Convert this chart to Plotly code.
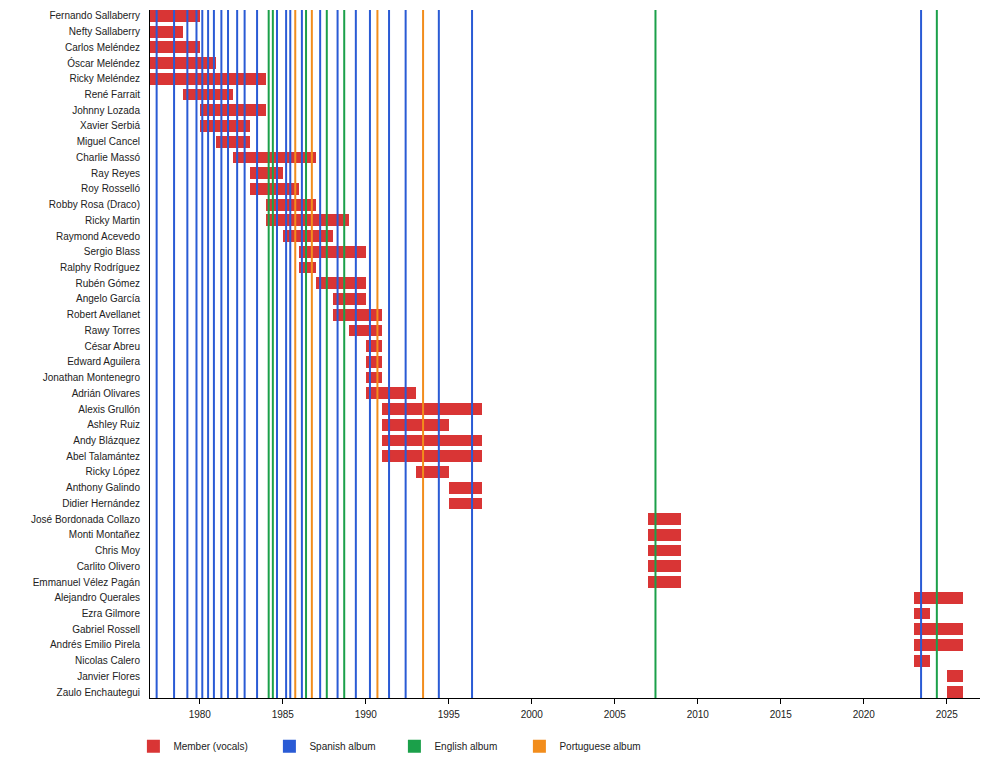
import plotly.graph_objects as go

# ---- data ----
members = [
    "Fernando Sallaberry", "Nefty Sallaberry", "Carlos Meléndez", "Óscar Meléndez",
    "Ricky Meléndez", "René Farrait", "Johnny Lozada", "Xavier Serbiá", "Miguel Cancel",
    "Charlie Massó", "Ray Reyes", "Roy Rosselló", "Robby Rosa (Draco)", "Ricky Martin",
    "Raymond Acevedo", "Sergio Blass", "Ralphy Rodríguez", "Rubén Gómez", "Angelo García",
    "Robert Avellanet", "Rawy Torres", "César Abreu", "Edward Aguilera",
    "Jonathan Montenegro", "Adrián Olivares", "Alexis Grullón", "Ashley Ruiz",
    "Andy Blázquez", "Abel Talamántez", "Ricky López", "Anthony Galindo",
    "Didier Hernández", "José Bordonada Collazo", "Monti Montañez", "Chris Moy",
    "Carlito Olivero", "Emmanuel Vélez Pagán", "Alejandro Querales", "Ezra Gilmore",
    "Gabriel Rossell", "Andrés Emilio Pirela", "Nicolas Calero", "Janvier Flores",
    "Zaulo Enchautegui",
]
start_year = [
    1977, 1977, 1977, 1977, 1977, 1979, 1980, 1980, 1981, 1982, 1983, 1983, 1984, 1984,
    1985, 1986, 1986, 1987, 1988, 1988, 1989, 1990, 1990, 1990, 1990, 1991, 1991, 1991,
    1991, 1993, 1995, 1995, 2007, 2007, 2007, 2007, 2007, 2023, 2023, 2023, 2023, 2023,
    2025, 2025,
]
end_year = [
    1980, 1979, 1980, 1981, 1984, 1982, 1984, 1983, 1983, 1987, 1985, 1986, 1987, 1989,
    1988, 1990, 1987, 1990, 1990, 1991, 1991, 1991, 1991, 1991, 1993, 1997, 1995, 1997,
    1997, 1995, 1997, 1997, 2009, 2009, 2009, 2009, 2009, 2026, 2024, 2026, 2026, 2024,
    2026, 2026,
]
spanish_albums = [
    1977.4, 1978.45, 1979.25, 1979.8, 1980.15, 1980.5, 1980.85, 1981.3, 1981.7, 1982.25,
    1982.7, 1983.45, 1984.65, 1985.2, 1985.45, 1986.15, 1987.25, 1988.3, 1989.4, 1990.25,
    1991.4, 1992.4, 1994.4, 1996.4, 2023.45,
]
english_albums = [1984.15, 1984.4, 1986.4, 1987.65, 1988.7, 2007.45, 2024.4]
portuguese_albums = [1985.75, 1986.75, 1990.7, 1993.45]
x_ticks = [1980, 1985, 1990, 1995, 2000, 2005, 2010, 2015, 2020, 2025]

# ---- styles ----
RED = "#d93535"
BLUE = "#2a5bd5"
GREEN = "#1ba04a"
ORANGE = "#f28d1c"
FONT = "Liberation Sans, Arial, sans-serif"
TXT = "#222222"

fig = go.Figure()

fig.add_trace(go.Bar(
    y=members,
    x=[e - s for s, e in zip(start_year, end_year)],
    base=start_year,
    orientation="h",
    width=0.75,
    marker=dict(color=RED, line=dict(width=0)),
    showlegend=False,
    hoverinfo="skip",
))


def album_trace(years, color):
    xs, ys = [], []
    for yr in years:
        xs += [yr, yr, None]
        ys += [0, 1, None]
    return go.Scatter(x=xs, y=ys, yaxis="y2", mode="lines",
                      line=dict(color=color, width=2), showlegend=False,
                      hoverinfo="skip")


fig.add_trace(album_trace(spanish_albums, BLUE))
fig.add_trace(album_trace(english_albums, GREEN))
fig.add_trace(album_trace(portuguese_albums, ORANGE))

legend_items = [("Member (vocals)", RED, 91), ("Spanish album", BLUE, 80),
                ("English album", GREEN, 80), ("Portuguese album", ORANGE, 90)]
for name, color, lw in legend_items:
    fig.add_trace(go.Scatter(
        x=[None], y=[None], mode="markers", name=name,
        marker=dict(symbol="square", size=13, color=color, line=dict(width=0)),
        legendwidth=lw, showlegend=True,
    ))

n = len(members)
fig.update_layout(
    width=1000, height=768,
    margin=dict(l=142, r=28, t=2, b=78),
    paper_bgcolor="white", plot_bgcolor="white",
    font=dict(family=FONT, size=10, color=TXT),
    bargap=0,
    xaxis=dict(
        range=[1977, 2027], tickvals=x_ticks, ticks="outside", ticklen=5,
        tickcolor="black", showline=True, linecolor="black", linewidth=1,
        showgrid=False, zeroline=False, tickfont=dict(size=10, color=TXT),
        ticklabelstandoff=2,
    ),
    yaxis=dict(
        type="category", categoryorder="array", categoryarray=members,
        range=[n - 1 + 0.375, -0.375], showline=True, linecolor="black",
        linewidth=1, showgrid=False, zeroline=False, ticks="",
        ticklabelstandoff=7, tickfont=dict(size=10, color=TXT),
    ),
    yaxis2=dict(overlaying="y", range=[0, 1], visible=False, fixedrange=True),
    legend=dict(
        orientation="h", x=-0.02, xanchor="left", y=-0.070, yanchor="middle",
        font=dict(size=10, color=TXT), bgcolor="rgba(0,0,0,0)",
        traceorder="normal",
    ),
)

fig.write_html("out.html")
